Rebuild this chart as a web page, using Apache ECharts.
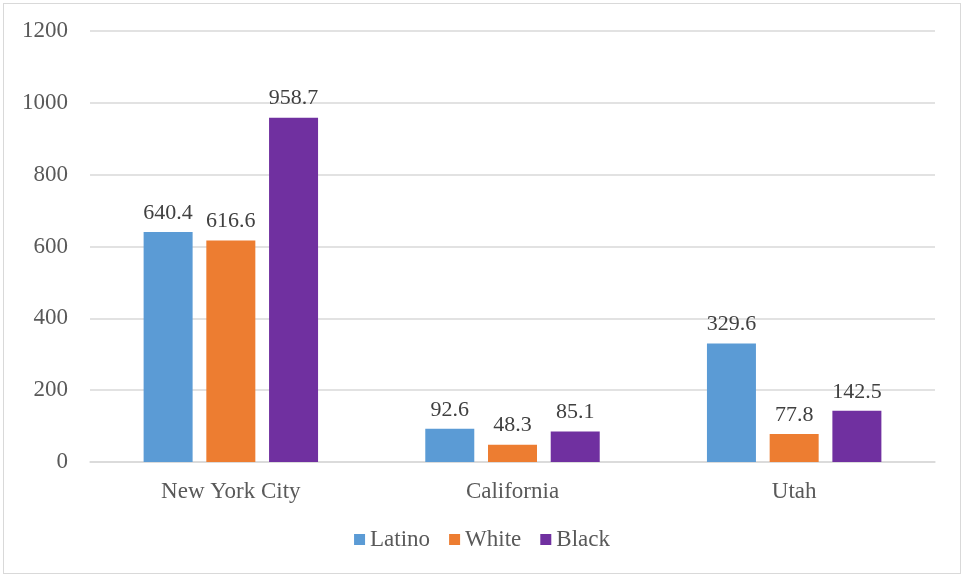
<!DOCTYPE html>
<html>
<head>
<meta charset="utf-8">
<script src="https://cdn.jsdelivr.net/npm/echarts@6/dist/echarts.min.js"></script>
<style>
html,body{margin:0;padding:0;background:#fff;}
#frame{position:absolute;left:3px;top:3px;width:958px;height:571px;border:1px solid #d9d9d9;box-sizing:border-box;}
#chart{position:absolute;left:0;top:0;width:964px;height:578px;}
</style>
</head>
<body>
<div id="frame"></div>
<div id="chart"></div>
<script>
// Rates by group and place
const categories = ['New York City', 'California', 'Utah'];
const latino = [640.4, 92.6, 329.6];
const white = [616.6, 48.3, 77.8];
const black = [958.7, 85.1, 142.5];
const yTicks = [0, 200, 400, 600, 800, 1000, 1200];

const font = '"Liberation Serif", "Times New Roman", serif';
const textColor = '#595959';

const chart = echarts.init(document.getElementById('chart'), null, { renderer: 'canvas' });

function barSeries(name, data, color) {
  return {
    name: name,
    type: 'bar',
    data: data,
    barWidth: 49,
    barGap: '28%',
    itemStyle: { color: color },
    label: {
      show: true,
      position: 'top',
      distance: 8,
      color: '#404040',
      fontFamily: font,
      fontSize: 22,
      formatter: p => p.value.toFixed(1)
    }
  };
}

chart.setOption({
  animation: false,
  textStyle: { fontFamily: font },
  grid: { left: 90, right: 29, top: 31, bottom: 116, containLabel: false },
  legend: {
    bottom: 22,
    left: 'center',
    itemWidth: 11,
    itemHeight: 11,
    itemGap: 19,
    icon: 'rect',
    textStyle: { fontFamily: font, fontSize: 23, color: textColor, padding: [0, 0, 0, 0] },
    data: ['Latino', 'White', 'Black']
  },
  xAxis: {
    type: 'category',
    data: categories,
    axisLine: { lineStyle: { color: '#d9d9d9', width: 1.5 } },
    axisTick: { show: false },
    axisLabel: { fontFamily: font, fontSize: 23, color: textColor, margin: 18 }
  },
  yAxis: {
    type: 'value',
    min: yTicks[0],
    max: yTicks[yTicks.length - 1],
    interval: 200,
    axisLine: { show: false },
    axisTick: { show: false },
    splitLine: { lineStyle: { color: '#d9d9d9', width: 1.5 } },
    axisLabel: { fontFamily: font, fontSize: 23, color: textColor, margin: 22, formatter: v => String(v) }
  },
  series: [
    barSeries('Latino', latino, '#5b9bd5'),
    barSeries('White', white, '#ed7d31'),
    barSeries('Black', black, '#7030a0')
  ]
});
</script>
</body>
</html>
